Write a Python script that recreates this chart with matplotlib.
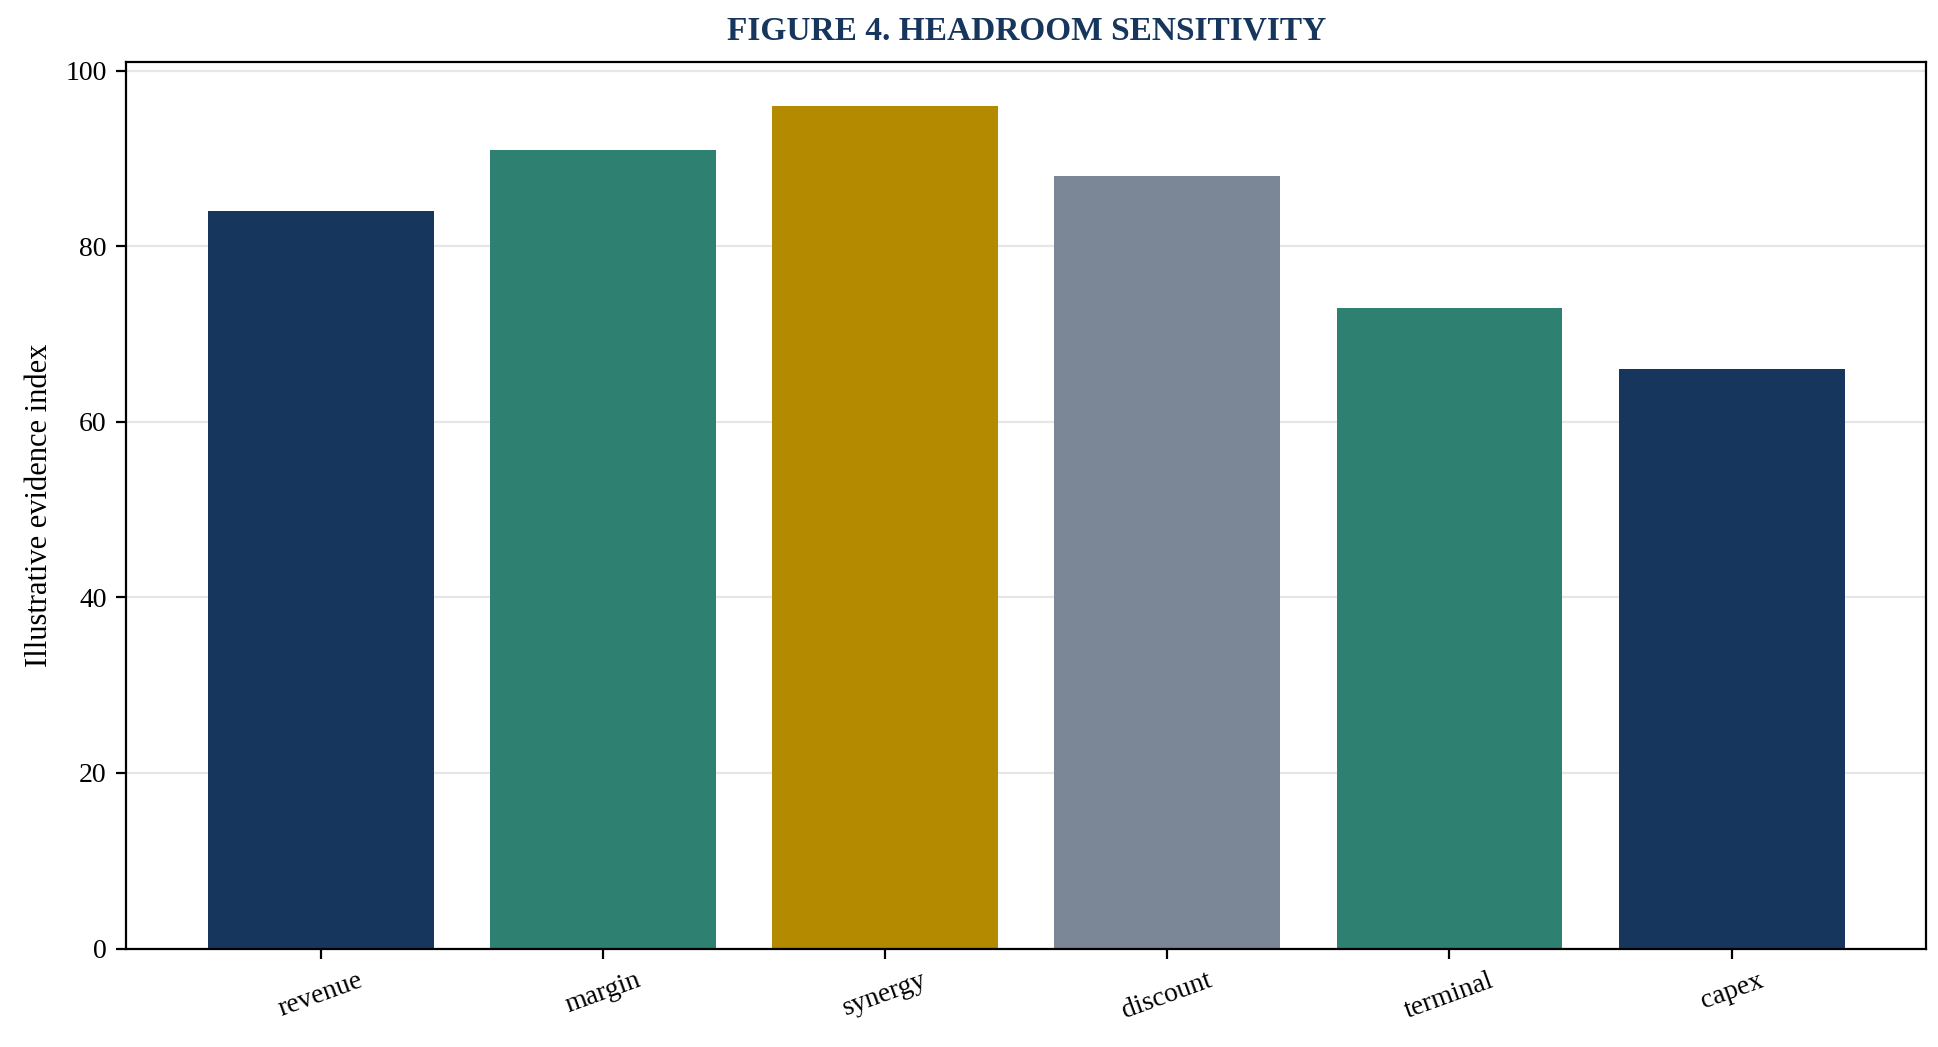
import matplotlib
matplotlib.use("Agg")
import matplotlib.pyplot as plt

categories = ["revenue", "margin", "synergy", "discount", "terminal", "capex"]
values = [84, 91, 96, 88, 73, 66]
colors = ["#17365d", "#2e8070", "#b38a00", "#7b8796", "#2e8070", "#17365d"]

plt.rcParams['font.family'] = ['Liberation Serif', 'DejaVu Serif']
fig = plt.figure(figsize=(9.69, 5.235), dpi=200)
ax = fig.add_axes([0.065, 0.094, 0.929, 0.847])
ax.bar(categories, values, color=colors, width=0.8, zorder=2)
ax.set_ylim(0, 101)
ax.set_yticks([0, 20, 40, 60, 80, 100])
ax.yaxis.grid(True, color="#e6e6e6", linewidth=0.8, zorder=0)
ax.set_axisbelow(True)
ax.set_ylabel("Illustrative evidence index", fontsize=11)
ax.set_title("FIGURE 4. HEADROOM SENSITIVITY", fontsize=12, fontweight="bold", color="#17365d", pad=8)
plt.setp(ax.get_xticklabels(), rotation=20)
ax.tick_params(labelsize=10)
fig.savefig("out.png", dpi=200)
